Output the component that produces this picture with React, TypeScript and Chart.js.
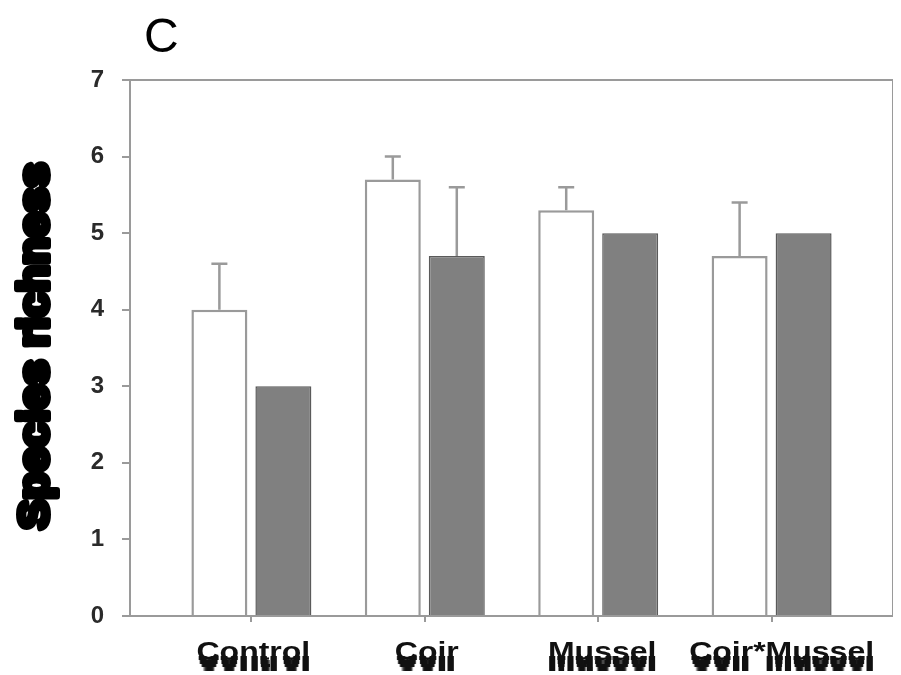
import React, { useEffect, useRef } from "react";
import { Chart, registerables } from "chart.js";

Chart.register(...registerables);

// Treatment groups along the x axis
const categories = ["Control", "Coir", "Mussel", "Coir*Mussel"];

// Open (white) bars: means and upper error
const openMeans = [4.0, 5.7, 5.3, 4.7];
const openErrors = [0.6, 0.3, 0.3, 0.7];

// Filled (grey) bars: means and upper error
const filledMeans = [3.0, 4.7, 5.0, 5.0];
const filledErrors = [0, 0.9, 0, 0];

// Y axis ticks
const yTickValues = [0, 1, 2, 3, 4, 5, 6, 7];

const panelLetter = "C";
const yAxisLabel = "Species richness";

const AXIS_GREY = "#9a9a9a";

const errorBarPlugin = {
  id: "errorBars",
  afterDatasetsDraw(chart: any) {
    const ctx = chart.ctx;
    const yScale = chart.scales.y;
    chart.data.datasets.forEach((ds: any, d: number) => {
      const meta = chart.getDatasetMeta(d);
      const errs: number[] = ds.errors || [];
      meta.data.forEach((bar: any, i: number) => {
        const err = errs[i];
        if (!err) return;
        const mean = ds.data[i].y;
        const yTop = yScale.getPixelForValue(mean + err);
        const yBase = yScale.getPixelForValue(mean);
        ctx.save();
        ctx.strokeStyle = AXIS_GREY;
        ctx.lineWidth = 2.5;
        ctx.beginPath();
        ctx.moveTo(bar.x, yBase);
        ctx.lineTo(bar.x, yTop);
        ctx.moveTo(bar.x - 8, yTop);
        ctx.lineTo(bar.x + 8, yTop);
        ctx.stroke();
        ctx.restore();
      });
    });
  },
};

const framePlugin = {
  id: "frame",
  afterDraw(chart: any) {
    const { ctx, chartArea } = chart;
    ctx.save();
    ctx.strokeStyle = AXIS_GREY;
    ctx.lineWidth = 2;
    ctx.beginPath();
    ctx.moveTo(chartArea.left, chartArea.top);
    ctx.lineTo(chartArea.right, chartArea.top);
    ctx.lineTo(chartArea.right, chartArea.bottom);
    ctx.stroke();
    ctx.restore();
  },
};

const textPlugin = {
  id: "panelText",
  afterDraw(chart: any) {
    const { ctx, chartArea, canvas } = chart;
    const xScale = chart.scales.x;

    // Panel letter
    ctx.save();
    ctx.fillStyle = "#000";
    ctx.font = '48px "Liberation Sans", Arial, sans-serif';
    ctx.textAlign = "left";
    ctx.textBaseline = "alphabetic";
    ctx.fillText(panelLetter, chartArea.left + 14, 44);
    ctx.restore();

    // Category labels, wide and heavy
    const baseline = 652;
    categories.forEach((label, i) => {
      const cx = xScale.getPixelForValue(i) + (i === 3 ? 10 : i === 2 ? 4 : 2);
      ctx.save();
      ctx.translate(cx, 0);
      ctx.scale(1.28, 1);
      ctx.font = 'bold 25px "Liberation Sans", Arial, sans-serif';
      ctx.textAlign = "center";
      ctx.textBaseline = "alphabetic";
      ctx.fillStyle = "#111";
      ctx.fillText(label, 0, baseline);
      ctx.restore();
    });

    // Heavy band under the category labels: the lowest rows of the
    // lettering are stretched downwards and thickened sideways
    const srcH = 4;
    const srcTop = baseline - srcH;
    const x0 = chartArea.left + 20;
    const wBand = chartArea.right - x0;
    ctx.save();
    ctx.setTransform(1, 0, 0, 1, 0, 0);
    ctx.imageSmoothingEnabled = false;
    const off = document.createElement("canvas");
    off.width = wBand;
    off.height = srcH;
    const octx = off.getContext("2d");
    if (octx) {
      octx.drawImage(canvas, x0, srcTop, wBand, srcH, 0, 0, wBand, srcH);
      for (const dx of [-1, 0, 1]) {
        ctx.drawImage(off, 0, 0, wBand, srcH, x0 + dx, srcTop, wBand, srcH + 11);
      }
    }
    ctx.restore();

    // Vertical axis label
    ctx.save();
    ctx.translate(40, 338);
    ctx.rotate(-Math.PI / 2);
    ctx.font = 'bold 42px "Liberation Sans", Arial, sans-serif';
    const w = ctx.measureText(yAxisLabel).width;
    ctx.scale(367 / w, 1);
    ctx.textAlign = "center";
    ctx.textBaseline = "alphabetic";
    ctx.fillStyle = "#000";
    ctx.strokeStyle = "#000";
    ctx.lineWidth = 6;
    ctx.lineJoin = "round";
    ctx.strokeText(yAxisLabel, 0, 0);
    ctx.fillText(yAxisLabel, 0, 0);
    ctx.restore();
  },
};

export default function App() {
  const canvasRef = useRef<HTMLCanvasElement | null>(null);

  useEffect(() => {
    if (!canvasRef.current) return;
    const chart = new Chart(canvasRef.current, {
      type: "bar",
      data: {
        datasets: [
          {
            label: "Open",
            data: categories.map((_, i) => ({ x: i, y: openMeans[i] })),
            errors: openErrors,
            backgroundColor: "#ffffff",
            borderColor: AXIS_GREY,
            borderWidth: 2.5,
          } as any,
          {
            label: "Filled",
            data: categories.map((_, i) => ({ x: i, y: filledMeans[i] })),
            errors: filledErrors,
            backgroundColor: "#808080",
            borderColor: "#5a5a5a",
            borderWidth: 1.5,
          } as any,
        ],
      },
      options: {
        animation: false,
        responsive: true,
        maintainAspectRatio: false,
        devicePixelRatio: 1,
        layout: { padding: { top: 72, right: 8, bottom: 0, left: 0 } },
        datasets: {
          bar: { categoryPercentage: 0.738, barPercentage: 0.875 },
        },
        plugins: {
          legend: { display: false },
          tooltip: { enabled: false },
          title: { display: false },
        },
        scales: {
          x: {
            type: "linear",
            min: -0.7,
            max: 3.7,
            offset: false,
            afterBuildTicks: (scale: any) => {
              scale.ticks = categories.map((_, i) => ({ value: i }));
            },
            afterFit: (scale: any) => {
              scale.height = 59;
            },
            ticks: { display: false },
            grid: {
              offset: false,
              drawOnChartArea: false,
              drawTicks: true,
              tickLength: 6,
              color: AXIS_GREY,
              lineWidth: 2,
            },
            border: { display: true, color: AXIS_GREY, width: 2 },
          },
          y: {
            type: "linear",
            min: 0,
            max: 7,
            afterBuildTicks: (scale: any) => {
              scale.ticks = yTickValues.map((v) => ({ value: v }));
            },
            afterFit: (scale: any) => {
              scale.width = 122;
            },
            ticks: {
              color: "#2a2a2a",
              padding: 18,
              font: { family: '"Liberation Sans", Arial, sans-serif', size: 24, weight: "bold" },
            },
            grid: {
              drawOnChartArea: false,
              drawTicks: true,
              tickLength: 8,
              color: AXIS_GREY,
              lineWidth: 2,
            },
            border: { display: true, color: AXIS_GREY, width: 2 },
          },
        },
      } as any,
      plugins: [errorBarPlugin, framePlugin, textPlugin],
    });
    return () => chart.destroy();
  }, []);

  return (
    <div style={{ width: 893, height: 667, position: "relative" }}>
      <canvas ref={canvasRef} />
    </div>
  );
}
